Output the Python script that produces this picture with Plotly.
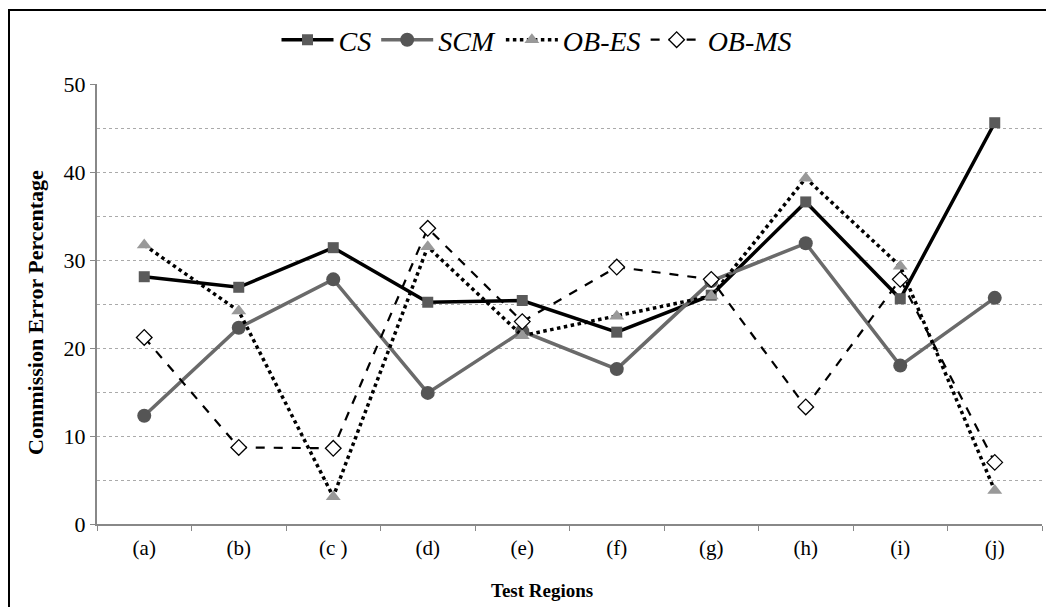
import plotly.graph_objects as go

regions = ["(a)", "(b)", "(c )", "(d)", "(e)", "(f)", "(g)", "(h)", "(i)", "(j)"]
cs = [28.1, 26.9, 31.4, 25.2, 25.4, 21.8, 26.0, 36.6, 25.6, 45.6]
scm = [12.3, 22.3, 27.8, 14.9, 21.9, 17.6, 27.6, 31.9, 18.0, 25.7]
ob_es = [31.7, 24.2, 3.1, 31.5, 21.4, 23.6, 25.9, 39.3, 29.3, 3.8]
ob_ms = [21.2, 8.7, 8.6, 33.6, 23.0, 29.2, 27.8, 13.3, 27.8, 7.0]

serif = "Liberation Serif, Times New Roman, serif"

fig = go.Figure()
fig.add_trace(go.Scatter(
    x=regions, y=cs, name="CS", mode="lines+markers",
    line=dict(color="#000000", width=3.5),
    marker=dict(symbol="square", size=11, color="#5a5a5a", line=dict(width=0))))
fig.add_trace(go.Scatter(
    x=regions, y=scm, name="SCM", mode="lines+markers",
    line=dict(color="#6a6a6a", width=3.5),
    marker=dict(symbol="circle", size=14, color="#555555", line=dict(width=0))))
fig.add_trace(go.Scatter(
    x=regions, y=ob_es, name="OB-ES", mode="lines+markers",
    line=dict(color="#000000", width=3.5, dash="dot"),
    marker=dict(symbol="triangle-up", size=13, color="#999999", line=dict(width=0))))
fig.add_trace(go.Scatter(
    x=regions, y=ob_ms, name="OB-MS", mode="lines+markers",
    line=dict(color="#000000", width=2.2, dash="dash"),
    marker=dict(symbol="diamond", size=12, color="#ffffff", line=dict(width=1.3, color="#000000"))))

# page body has an 8px offset; figure sized to fit the window
W, H = 1046, 599
L, R, T, B = 89, 12, 76, 83
pw, ph = W - L - R, H - T - B
fig.add_shape(type="rect", xref="paper", yref="paper",
              x0=(1 - L) / pw, x1=(W + 10 - L) / pw,
              y0=1 - (H + 10 - T) / ph, y1=1 - (2 - T) / ph,
              line=dict(color="#000000", width=2), layer="above")

fig.add_annotation(text="<b>Test Regions</b>", xref="paper", yref="paper",
                   x=(534 - L) / pw, y=1 - (582 - T) / ph, showarrow=False,
                   font=dict(family=serif, size=19), xanchor="center", yanchor="middle")
fig.add_annotation(text="<b>Commission Error Percentage</b>", xref="paper", yref="paper",
                   x=(27 - L) / pw, y=1 - (305 - T) / ph, showarrow=False, textangle=-90,
                   font=dict(family=serif, size=22), xanchor="center", yanchor="middle")

fig.update_layout(
    width=W, height=H,
    margin=dict(l=L, r=R, t=T, b=B, autoexpand=False),
    paper_bgcolor="white", plot_bgcolor="white",
    font=dict(family=serif, size=16, color="#000000"),
    showlegend=True,
    legend=dict(orientation="h", xref="container", yref="container",
                x=(529 / W), xanchor="center", y=1 - 32 / H, yanchor="middle",
                font=dict(family=serif, size=28, style="italic"),
                itemwidth=52, traceorder="normal"),
    xaxis=dict(type="category", tickson="boundaries", ticks="outside", ticklen=5,
               tickcolor="#888888", showline=True, linecolor="#888888", linewidth=2,
               showgrid=False, tickfont=dict(family=serif, size=21), automargin=False,
               ticklabelstandoff=4, range=[-0.5, 9.5]),
    yaxis=dict(range=[0, 50], dtick=10, ticks="outside", ticklen=5, tickcolor="#888888",
               showline=True, linecolor="#888888", linewidth=2, zeroline=False,
               showgrid=True, gridcolor="#aaaaaa", griddash="dot", gridwidth=1, automargin=False,
               minor=dict(dtick=5, showgrid=True, gridcolor="#aaaaaa", griddash="dot", gridwidth=1, ticks=""),
               tickfont=dict(family=serif, size=22)),
)

fig.write_html("out.html")
